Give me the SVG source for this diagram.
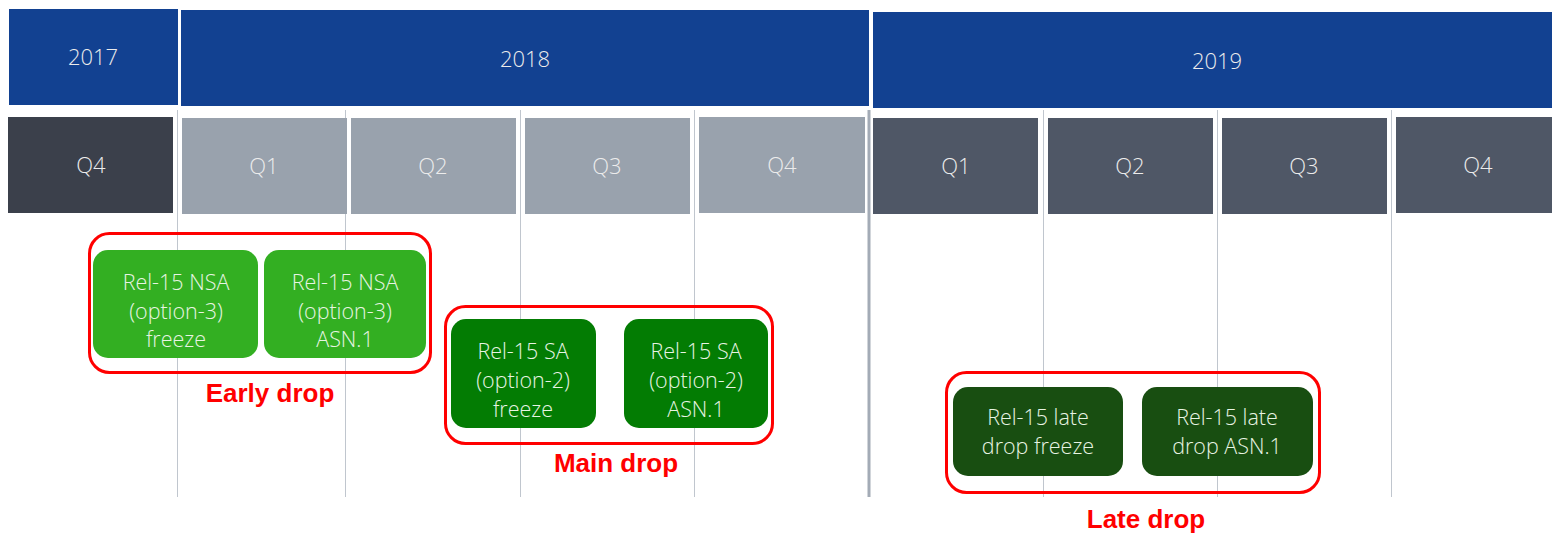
<svg xmlns="http://www.w3.org/2000/svg" width="1552" height="533" viewBox="0 0 1552 533">
<style>
.yr{fill:#124191}
.q17{fill:#3b404b}
.q18{fill:#99a2ad}
.q19{fill:#4f5766}
.lbl{font-family:"Open Sans","Segoe UI","Noto Sans",sans-serif;font-weight:300;font-size:22px;fill:#ececec;text-anchor:middle}
.nt{font-family:"Open Sans","Segoe UI","Noto Sans",sans-serif;font-weight:300;font-size:21.5px;fill:#e8f4e3;text-anchor:middle}
.grid{stroke:#c0c6ce;stroke-width:1;fill:none}
.drop{fill:none;stroke:#ff0000;stroke-width:3}
.dl{font-family:"Liberation Sans",Arial,sans-serif;font-weight:bold;font-size:26px;fill:#ff0000;text-anchor:middle}
</style>
<rect width="1552" height="533" fill="#ffffff"/>
<g id="grid">
<line class="grid" x1="177.5" y1="110" x2="177.5" y2="497" stroke-width="1.5"/>
<line class="grid" x1="345.5" y1="110" x2="345.5" y2="497"/>
<line class="grid" x1="520.5" y1="110" x2="520.5" y2="497"/>
<line class="grid" x1="694.5" y1="110" x2="694.5" y2="497"/>
<line x1="869" y1="110" x2="869" y2="497" stroke="#a3abb6" stroke-width="3"/>
<line class="grid" x1="1043.5" y1="110" x2="1043.5" y2="497"/>
<line class="grid" x1="1217.5" y1="110" x2="1217.5" y2="497"/>
<line class="grid" x1="1391.5" y1="110" x2="1391.5" y2="497"/>
</g>
<g id="y2017"><rect class="yr" x="9" y="9" width="169" height="96"/><text class="lbl" x="93" y="65">2017</text></g>
<g id="y2018"><rect class="yr" x="181" y="10" width="688" height="96"/><text class="lbl" x="525" y="67">2018</text></g>
<g id="y2019"><rect class="yr" x="873" y="12" width="679" height="96"/><text class="lbl" x="1217" y="69">2019</text></g>
<g id="q4-2017"><rect class="q17" x="8" y="117" width="165" height="96"/><text class="lbl" x="91" y="173">Q4</text></g>
<g id="q1-2018"><rect class="q18" x="182" y="118" width="165" height="96"/><text class="lbl" x="264" y="174">Q1</text></g>
<g id="q2-2018"><rect class="q18" x="351" y="118" width="165" height="96"/><text class="lbl" x="433" y="174">Q2</text></g>
<g id="q3-2018"><rect class="q18" x="525" y="118" width="165" height="96"/><text class="lbl" x="607" y="174">Q3</text></g>
<g id="q4-2018"><rect class="q18" x="699" y="117" width="166" height="96"/><text class="lbl" x="782" y="173">Q4</text></g>
<g id="q1-2019"><rect class="q19" x="873" y="118" width="165" height="96"/><text class="lbl" x="956" y="174">Q1</text></g>
<g id="q2-2019"><rect class="q19" x="1048" y="118" width="165" height="96"/><text class="lbl" x="1130" y="174">Q2</text></g>
<g id="q3-2019"><rect class="q19" x="1222" y="118" width="165" height="96"/><text class="lbl" x="1304" y="174">Q3</text></g>
<g id="q4-2019"><rect class="q19" x="1396" y="117" width="156" height="96"/><text class="lbl" x="1478" y="173">Q4</text></g>

<g id="early-drop">
<rect class="drop" x="89.5" y="233.5" width="341" height="139" rx="20"/>
<text class="dl" x="270" y="402">Early drop</text>
</g>
<g id="nsa-freeze">
<rect x="93" y="250" width="165" height="108" rx="15" fill="#33af22"/>
<text class="nt" x="176" y="290">Rel-15 NSA</text>
<text class="nt" x="176" y="319">(option-3)</text>
<text class="nt" x="176" y="347">freeze</text>
</g>
<g id="nsa-asn1">
<rect x="264" y="250" width="162" height="108" rx="15" fill="#33af22"/>
<text class="nt" x="345" y="290">Rel-15 NSA</text>
<text class="nt" x="345" y="319">(option-3)</text>
<text class="nt" x="345" y="347">ASN.1</text>
</g>

<g id="main-drop">
<rect class="drop" x="445.5" y="306.5" width="327" height="137" rx="20"/>
<text class="dl" x="616" y="472">Main drop</text>
</g>
<g id="sa-freeze">
<rect x="451" y="319" width="145" height="109" rx="15" fill="#037c03"/>
<text class="nt" x="523" y="359">Rel-15 SA</text>
<text class="nt" x="523" y="388">(option-2)</text>
<text class="nt" x="523" y="417">freeze</text>
</g>
<g id="sa-asn1">
<rect x="624" y="319" width="144" height="109" rx="15" fill="#037c03"/>
<text class="nt" x="696" y="359">Rel-15 SA</text>
<text class="nt" x="696" y="388">(option-2)</text>
<text class="nt" x="696" y="417">ASN.1</text>
</g>

<g id="late-drop">
<rect class="drop" x="946.5" y="372.5" width="373" height="120" rx="20"/>
<text class="dl" x="1146" y="528">Late drop</text>
</g>
<g id="late-freeze">
<rect x="953" y="387" width="170" height="89" rx="15" fill="#184e11"/>
<text class="nt" x="1038" y="425">Rel-15 late</text>
<text class="nt" x="1038" y="454">drop freeze</text>
</g>
<g id="late-asn1">
<rect x="1142" y="387" width="171" height="89" rx="15" fill="#184e11"/>
<text class="nt" x="1227" y="425">Rel-15 late</text>
<text class="nt" x="1227" y="454">drop ASN.1</text>
</g>
<g id="connectors"></g>
</svg>
